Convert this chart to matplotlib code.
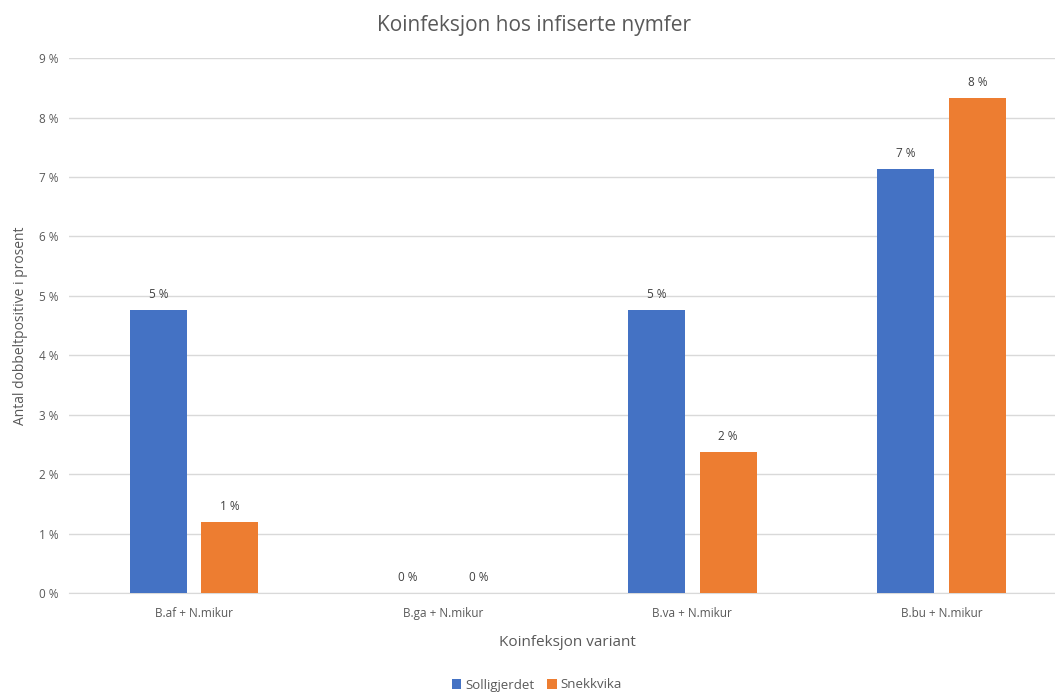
import matplotlib.pyplot as plt
import numpy as np
from matplotlib.ticker import FuncFormatter

categories = ['B.af + N.mikur', 'B.ga + N.mikur', 'B.va + N.mikur', 'B.bu + N.mikur']
solligjerdet = [4.76, 0.0, 4.76, 7.14]
snekkvika = [1.19, 0.0, 2.38, 8.33]
series_names = ['Solligjerdet', 'Snekkvika']

blue = '#4472C4'
orange = '#ED7D31'
grey = '#595959'

plt.rcParams['font.family'] = ['Open Sans', 'DejaVu Sans']

fig = plt.figure(figsize=(10.55, 6.93), dpi=100)
# plot area runs slightly past the right edge, as in the cropped original
ax = fig.add_axes([0.0658, 0.1443, 0.9448, 0.7717])

x = np.arange(len(categories))
w = 0.229
off = 0.1435
b1 = ax.bar(x - off, solligjerdet, w, color=blue, label=series_names[0], zorder=3)
b2 = ax.bar(x + off, snekkvika, w, color=orange, label=series_names[1], zorder=3)

for bars, vals in ((b1, solligjerdet), (b2, snekkvika)):
    for rect, v in zip(bars, vals):
        ax.text(rect.get_x() + rect.get_width() / 2, v + 0.15, f'{v:.0f} %',
                ha='center', va='bottom', fontsize=8.5, color='#404040')

ax.set_xlim(-0.5, len(categories) - 0.5)
ax.set_ylim(0, 9)
ax.set_yticks(range(0, 10))
ax.yaxis.set_major_formatter(FuncFormatter(lambda v, p: f'{v:.0f} %'))
ax.set_xticks(x)
ax.set_xticklabels(categories)
ax.tick_params(axis='both', length=0, labelsize=8.5, colors=grey)
ax.tick_params(axis='x', pad=10)
ax.tick_params(axis='y', pad=8)
ax.grid(axis='y', color='#D9D9D9', linewidth=1, zorder=0)
for s in ['top', 'right', 'left']:
    ax.spines[s].set_visible(False)
ax.spines['bottom'].set_color('#D9D9D9')

fig.text(534 / 1055, 1 - 25 / 693, 'Koinfeksjon hos infiserte nymfer', fontsize=15,
         color=grey, ha='center', va='center')
ax.set_xlabel('Koinfeksjon variant', fontsize=11, color=grey)
ax.xaxis.set_label_coords(0.5, -0.078)
ax.set_ylabel('Antal dobbeltpositive i prosent', fontsize=10, color=grey, labelpad=8)

fig.legend(handles=[b1, b2], loc='center', bbox_to_anchor=(537 / 1055, 1 - 685 / 693), ncol=2,
           frameon=False, fontsize=9.5, labelcolor=grey, handlelength=0.7,
           handleheight=0.7, handletextpad=0.3, columnspacing=1.0)

fig.savefig('out.png', dpi=100, facecolor='white')
